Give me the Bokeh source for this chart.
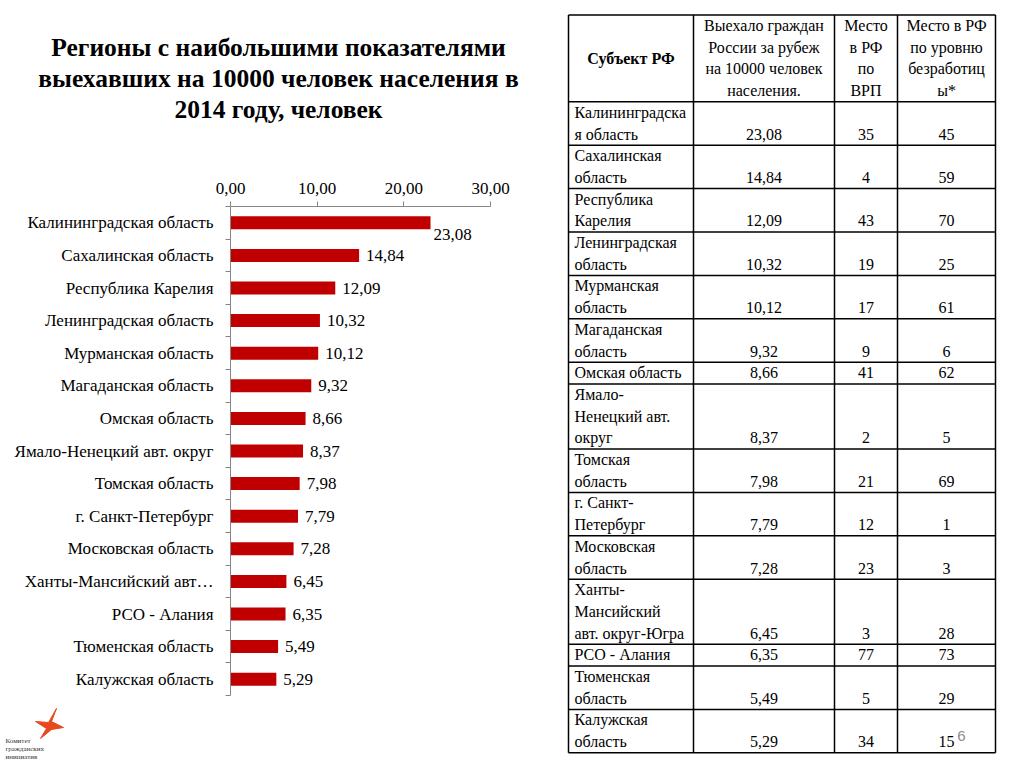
from bokeh.plotting import figure
from bokeh.models import Range1d, FixedTicker, ColumnDataSource
from bokeh.layouts import row, column
from bokeh.embed import file_html
from bokeh.resources import INLINE
from bokeh.core.properties import value

# ---------------- data ----------------
title_lines = ["Регионы с наибольшими показателями",
               "выехавших на 10000 человек населения в",
               "2014 году, человек"]

regions = ["Калининградская область", "Сахалинская область", "Республика Карелия",
           "Ленинградская область", "Мурманская область", "Магаданская область",
           "Омская область", "Ямало-Ненецкий авт. округ", "Томская область",
           "г. Санкт-Петербург", "Московская область", "Ханты-Мансийский авт…",
           "РСО - Алания", "Тюменская область", "Калужская область"]
emigrated = [23.08, 14.84, 12.09, 10.32, 10.12, 9.32, 8.66, 8.37, 7.98,
             7.79, 7.28, 6.45, 6.35, 5.49, 5.29]

x_ticks = [0, 10, 20, 30]
x_tick_labels = ["0,00", "10,00", "20,00", "30,00"]

table_header = [["Субъект РФ"],
                ["Выехало граждан", "России за рубеж", "на 10000 человек", "населения."],
                ["Место", "в РФ", "по", "ВРП"],
                ["Место в РФ", "по уровню", "безработиц", "ы*"]]
table_subjects = [["Калининградска", "я область"], ["Сахалинская", "область"],
                  ["Республика", "Карелия"], ["Ленинградская", "область"],
                  ["Мурманская", "область"], ["Магаданская", "область"],
                  ["Омская область"], ["Ямало-", "Ненецкий авт.", "округ"],
                  ["Томская", "область"], ["г. Санкт-", "Петербург"],
                  ["Московская", "область"], ["Ханты-", "Мансийский", "авт. округ-Югра"],
                  ["РСО - Алания"], ["Тюменская", "область"], ["Калужская", "область"]]
rank_grp = [35, 4, 43, 19, 17, 9, 41, 2, 21, 12, 23, 3, 77, 5, 34]
rank_unemployment = [45, 59, 70, 25, 61, 6, 62, 5, 69, 1, 3, 28, 73, 29, 15]

logo_lines = ["Комитет", "гражданских", "инициатив"]
page_number = "6"

# ---------------- helpers ----------------
SERIF = "Liberation Serif"
BAR = "#C00000"
AXIS = "#868686"


def fmt(v):
    return f"{v:.2f}".replace(".", ",")


def blank(w, h, xr, yr):
    f = figure(width=w, height=h, x_range=xr, y_range=yr, output_backend="svg",
               toolbar_location=None, x_axis_location=None, y_axis_location=None,
               min_border=0)
    f.outline_line_color = None
    f.grid.visible = False
    return f


# ---------------- title (page y 0..158) ----------------
title_fig = blank(560, 158, Range1d(0, 560), Range1d(158, 0))
title_fig.text(x=[278] * len(title_lines), y=[47 + 31 * i for i in range(len(title_lines))],
               text=title_lines, text_font=value(SERIF), text_font_size="25.5px",
               text_font_style="bold", text_align="center", text_baseline="middle",
               text_color="#000000")

# ---------------- bar chart (page y 158..703) ----------------
n = len(regions)
ypos = list(range(1, n + 1))
bounds = [i + 0.5 for i in range(n + 1)]

chart = figure(width=560, height=545, x_range=Range1d(0, 30), y_range=Range1d(n + 0.5, 0.5),
               output_backend="svg", toolbar_location=None, x_axis_location="above",
               min_border_left=230, min_border_right=70, min_border_top=48,
               min_border_bottom=8)
chart.outline_line_color = None
chart.grid.visible = False

chart.hbar(y=ypos, left=0, right=emigrated, height=0.4, fill_color=BAR, line_color=None)

lab_dx = [3 if v == max(emigrated) else 7 for v in emigrated]
lab_dy = [12 if v == max(emigrated) else 0 for v in emigrated]
chart.text(x=emigrated, y=ypos, text=[fmt(v) for v in emigrated], x_offset=lab_dx,
           y_offset=lab_dy, text_font=value(SERIF), text_font_size="17px",
           text_baseline="middle", text_align="left", text_color="#000000")

xa = chart.xaxis[0]
xa.ticker = FixedTicker(ticks=x_ticks)
xa.major_label_overrides = dict(zip(x_ticks, x_tick_labels))
xa.axis_line_color = AXIS
xa.major_tick_line_color = AXIS
xa.major_tick_out = 5
xa.major_tick_in = 0
xa.minor_tick_line_color = None
xa.major_label_standoff = 8
xa.major_label_text_font = SERIF
xa.major_label_text_font_size = "17px"
xa.major_label_text_color = "#000000"

ya = chart.yaxis[0]
ya.ticker = FixedTicker(ticks=ypos, minor_ticks=bounds)
ya.major_label_overrides = dict(zip(ypos, regions))
ya.axis_line_color = AXIS
ya.major_tick_line_color = None
ya.major_tick_out = 0
ya.major_tick_in = 0
ya.minor_tick_line_color = AXIS
ya.minor_tick_out = 5
ya.minor_tick_in = 0
ya.major_label_standoff = 12
ya.major_label_text_font = SERIF
ya.major_label_text_font_size = "17px"
ya.major_label_text_color = "#000000"

# ---------------- logo (page y 703..759) ----------------
logo_fig = blank(560, 56, Range1d(0, 560), Range1d(759, 703))
bird_x = [56, 51, 63, 51, 40, 46, 35, 48]
bird_y = [708, 721, 727, 729, 738, 728, 721, 722]
logo_fig.patch(x=bird_x, y=bird_y, fill_color="#E8481E", line_color="#E8481E")
logo_fig.text(x=[5] * 3, y=[740, 748, 756], text=logo_lines, text_font=value(SERIF),
              text_font_size="7px", text_baseline="middle", text_color="#333333")

# ---------------- table (page x 560..1016, y 0..759) ----------------
table_fig = blank(456, 759, Range1d(560, 1016), Range1d(759, 0))
LH = 21.7
TOP = 14.5
col_x = [568, 693, 834, 897, 995]
centers = [(col_x[i] + col_x[i + 1]) / 2 for i in range(4)]
heights = [4 * LH] + [len(s) * LH for s in table_subjects]
row_y = [TOP]
for h in heights:
    row_y.append(row_y[-1] + h)

table_fig.segment(x0=[col_x[0]] * len(row_y), x1=[col_x[-1]] * len(row_y), y0=row_y, y1=row_y,
                  line_color="#000000", line_width=1.5)
table_fig.segment(x0=col_x, x1=col_x, y0=[row_y[0]] * len(col_x), y1=[row_y[-1]] * len(col_x),
                  line_color="#000000", line_width=1.5)

BASE = 10.5
tx, ty, tt, ta, tw = [], [], [], [], []
tx.append(centers[0]); ty.append(row_y[0] + BASE + 1.5 * LH); tt.append(table_header[0][0])
ta.append("center"); tw.append("bold")
for c in range(1, 4):
    for k, line in enumerate(table_header[c]):
        tx.append(centers[c]); ty.append(row_y[0] + BASE + k * LH); tt.append(line)
        ta.append("center"); tw.append("normal")
for r, lines in enumerate(table_subjects):
    top = row_y[r + 1]
    for k, line in enumerate(lines):
        tx.append(col_x[0] + 6); ty.append(top + BASE + k * LH); tt.append(line)
        ta.append("left"); tw.append("normal")
    yb = top + BASE + (len(lines) - 1) * LH
    for c, val in zip(range(1, 4), [fmt(emigrated[r]), str(rank_grp[r]), str(rank_unemployment[r])]):
        tx.append(centers[c]); ty.append(yb); tt.append(val)
        ta.append("center"); tw.append("normal")

src = ColumnDataSource(dict(x=tx, y=ty, text=tt, align=ta, weight=tw))
table_fig.text(x="x", y="y", text="text", text_align="align", text_font_style="weight",
               source=src, text_font=value(SERIF), text_font_size="16px",
               text_baseline="alphabetic", text_color="#000000")

table_fig.text(x=[961], y=[735], text=[page_number], text_font=value("Liberation Sans"),
               text_font_size="15px", text_align="center", text_baseline="middle",
               text_color="#8C8C8C")

layout = row(column(row(title_fig), chart, row(logo_fig), spacing=0), table_fig, spacing=0)

open("out.html", "w").write(file_html(layout, INLINE))
